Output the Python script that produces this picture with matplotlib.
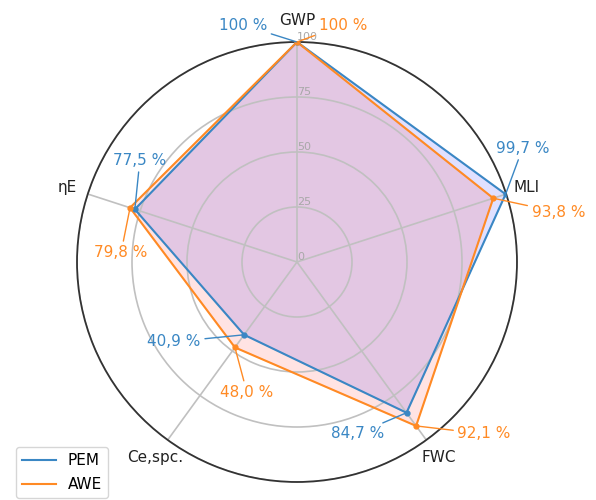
import numpy as np
import matplotlib
matplotlib.use("Agg")
import matplotlib.pyplot as plt

categories = ["GWP", "MLI", "FWC", "Ce,spc.", "ηE"]
pem = [100.0, 99.7, 84.7, 40.9, 77.5]
awe = [100.0, 93.8, 92.1, 48.0, 79.8]
pem_labels = ["100 %", "99,7 %", "84,7 %", "40,9 %", "77,5 %"]
awe_labels = ["100 %", "93,8 %", "92,1 %", "48,0 %", "79,8 %"]
r_ticks = [0, 25, 50, 75, 100]

pem_color = "#3a87c4"
awe_color = "#ff8a24"

# text offsets (pixels, x right / y up) for annotations
px = 72 / 100.0
pem_off = [(-54, 17), (17, 46), (-49, -21), (-70, -7), (5, 49)]
awe_off = [(46, 17), (65, -14), (68, -8), (12, -45), (-9, -45)]

fig = plt.figure(figsize=(5.96, 5.0), dpi=100)
ax = fig.add_axes([77 / 596, 18 / 500, 440 / 596, 440 / 500], projection="polar")
ax.set_theta_offset(np.pi / 2)
ax.set_theta_direction(-1)

n = len(categories)
angles = np.linspace(0, 2 * np.pi, n, endpoint=False)
ang_c = np.concatenate([angles, angles[:1]])
pem_c = np.concatenate([pem, pem[:1]])
awe_c = np.concatenate([awe, awe[:1]])

ax.fill(ang_c, pem_c, color="blue", alpha=0.12, zorder=1)
ax.fill(ang_c, awe_c, color="red", alpha=0.11, zorder=1)
ax.plot(ang_c, pem_c, color=pem_color, lw=1.5, label="PEM", zorder=3)
ax.plot(ang_c, awe_c, color=awe_color, lw=1.5, label="AWE", zorder=3)
ax.plot(angles, pem, "o", color=pem_color, ms=3.5, zorder=4)
ax.plot(angles, awe, "o", color=awe_color, ms=3.5, zorder=4)

ax.set_ylim(0, 100)
ax.set_yticks(r_ticks)
ax.set_yticklabels([str(t) for t in r_ticks], color="#a8a8a8", fontsize=8)
ax.set_rlabel_position(0)
ax.set_xticks(angles)
ax.set_xticklabels(categories, fontsize=11, color="#222222")
ax.tick_params(axis="x", pad=5)
ax.grid(color="#c0c0c0", lw=1.2, zorder=1.5)
ax.spines["polar"].set_color("#333333")
ax.spines["polar"].set_linewidth(1.3)

for a, v, lab, (dx, dy) in zip(angles, pem, pem_labels, pem_off):
    ax.annotate(lab, xy=(a, v), xytext=(dx * px, dy * px), textcoords="offset points",
                ha="center", va="center", color=pem_color, fontsize=11,
                arrowprops=dict(arrowstyle="-", color=pem_color, lw=1.0, shrinkA=1, shrinkB=0),
                zorder=5)
for a, v, lab, (dx, dy) in zip(angles, awe, awe_labels, awe_off):
    ax.annotate(lab, xy=(a, v), xytext=(dx * px, dy * px), textcoords="offset points",
                ha="center", va="center", color=awe_color, fontsize=11,
                arrowprops=dict(arrowstyle="-", color=awe_color, lw=1.0, shrinkA=1, shrinkB=0),
                zorder=5)

handles, labels = ax.get_legend_handles_labels()
fig.legend(handles, labels, loc="upper left", bbox_to_anchor=(16 / 596, 1 - 447 / 500),
           borderaxespad=0, fontsize=11, frameon=True, handlelength=2.2, labelspacing=0.6)

fig.savefig("out.png", dpi=100)
